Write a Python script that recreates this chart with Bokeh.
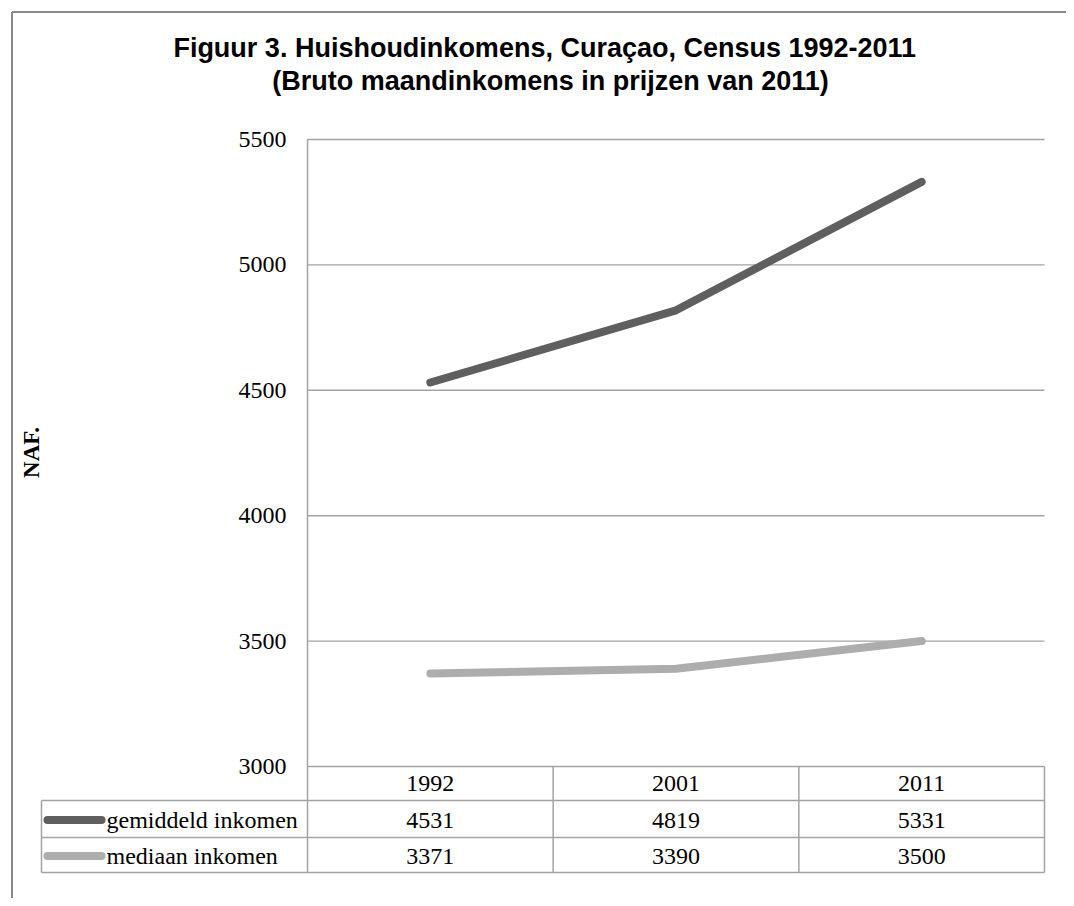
import math
from bokeh.plotting import figure
from bokeh.models import Range1d
from bokeh.core.properties import value
from bokeh.embed import file_html
from bokeh.resources import INLINE

# ---- data ----
years = ["1992", "2001", "2011"]
gemiddeld = [4531, 4819, 5331]
mediaan = [3371, 3390, 3500]
y_ticks = [3000, 3500, 4000, 4500, 5000, 5500]
series_names = ["gemiddeld inkomen", "mediaan inkomen"]
title_lines = ["Figuur 3. Huishoudinkomens,  Curaçao, Census 1992-2011",
               "(Bruto maandinkomens in prijzen van 2011)"]
y_label = "NAF."

# ---- layout (reference pixel coordinates) ----
W, H = 1066, 898
OFF = 0
FL, FR, FT, FB = 307, 1044, 139, 766  # plot area in reference px
Y0, Y1 = y_ticks[0], y_ticks[-1]
NC = len(years)

def fx(xr):
    return (xr - FL) * NC / (FR - FL)

def fy(yr):
    return Y0 + (FB - yr) * (Y1 - Y0) / (FB - FT)

# category centre positions on the x scale (one unit per category)
xpos = [i + 0.5 for i in range(NC)]

DARK = "#5f5f5f"
LIGHT = "#adadad"
GRID = "#a3a3a3"
SERIF = "Liberation Serif"
SANS = "Liberation Sans"
FS = "24px"

p = figure(width=W, height=H,
           x_range=Range1d(fx(OFF), fx(OFF + W)), y_range=Range1d(fy(OFF + H), fy(OFF)),
           x_axis_location=None, y_axis_location=None,
           output_backend="svg", toolbar_location=None,
           min_border=0)
p.outline_line_color = None
p.background_fill_color = "white"
p.border_fill_color = "white"
p.xgrid.visible = False
p.ygrid.visible = False

# outer chart border (runs off the page to the right and bottom)
p.segment(x0=[fx(11.5), fx(11.5)], y0=[fy(11.5), fy(11.5)],
          x1=[fx(11.5), fx(1300)], y1=[fy(1100), fy(11.5)],
          line_color="#8a8a8a", line_width=2)

# titles
p.text(x=[fx(548), fx(550)], y=[fy(47), fy(80)], text=title_lines,
       text_align="center", text_baseline="middle", text_font=value(SANS),
       text_font_style="bold", text_font_size=value("27px"), text_color="#000000")

# y label
p.text(x=[fx(31)], y=[fy(452)], text=[y_label], angle=math.pi / 2,
       text_align="center", text_baseline="middle", text_font=value(SERIF),
       text_font_style="bold", text_font_size=value("23px"), text_color="#000000")

# gridlines and tick labels
p.segment(x0=[0] * len(y_ticks), x1=[NC] * len(y_ticks), y0=y_ticks, y1=y_ticks,
          line_color=GRID, line_width=1.4)
p.text(x=[fx(286)] * len(y_ticks), y=y_ticks, text=[str(t) for t in y_ticks],
       text_align="right", text_baseline="middle", text_font=value(SERIF),
       text_font_size=value(FS), text_color="#000000")

# table grid
row_edges = [FB, 800, 837, 872]
ybot = fy(row_edges[-1])
# horizontal lines of the table (below the 3000 gridline)
p.segment(x0=[fx(41)] * 3, x1=[NC] * 3, y0=[fy(r) for r in row_edges[1:]],
          y1=[fy(r) for r in row_edges[1:]], line_color=GRID, line_width=1.5)
# vertical lines
p.segment(x0=[0], x1=[0], y0=[Y1], y1=[ybot], line_color=GRID, line_width=1.5)  # value axis
p.segment(x0=[fx(41)], x1=[fx(41)], y0=[fy(row_edges[1])], y1=[ybot], line_color=GRID, line_width=1.5)
p.segment(x0=list(range(1, NC + 1)), x1=list(range(1, NC + 1)), y0=[Y0] * NC, y1=[ybot] * NC,
          line_color=GRID, line_width=1.5)

# header row: categories
p.text(x=xpos, y=[fy((row_edges[0] + row_edges[1]) / 2)] * NC, text=years,
       text_align="center", text_baseline="middle", text_font=value(SERIF),
       text_font_size=value(FS), text_color="#000000")

# data lines
p.line(x=xpos, y=gemiddeld, line_width=8, line_color=DARK, line_cap="round", line_join="round")
p.line(x=xpos, y=mediaan, line_width=8, line_color=LIGHT, line_cap="round", line_join="round")

# table rows: legend keys, names, values
for vals, name, col, r in zip([gemiddeld, mediaan], series_names, [DARK, LIGHT], [1, 2]):
    yc = fy((row_edges[r] + row_edges[r + 1]) / 2 + 1)
    p.segment(x0=[fx(47)], x1=[fx(101)], y0=[yc], y1=[yc], line_color=col,
              line_width=8, line_cap="round")
    p.text(x=[fx(106)], y=[yc], text=[name], text_align="left", text_baseline="middle",
           text_font=value(SERIF), text_font_size=value(FS), text_color="#000000")
    p.text(x=xpos, y=[yc] * NC, text=[str(v) for v in vals], text_align="center",
           text_baseline="middle", text_font=value(SERIF), text_font_size=value(FS),
           text_color="#000000")

open("out.html", "w").write(file_html(p, INLINE))
